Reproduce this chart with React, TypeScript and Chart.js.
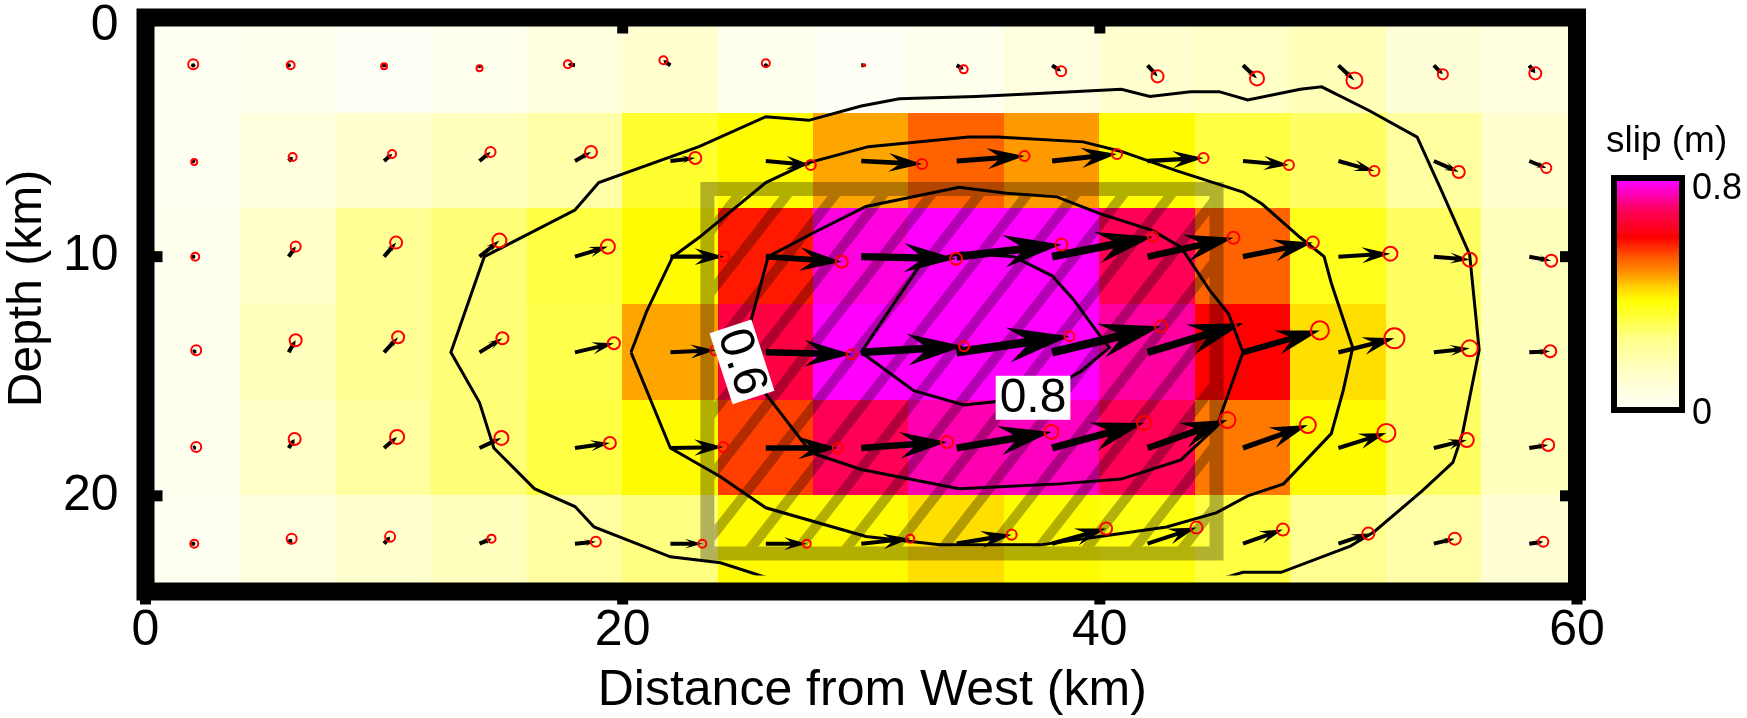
import React, { useEffect, useRef } from "react";
import { Chart, registerables } from "chart.js";

Chart.register(...registerables);

const FONT = "'Liberation Sans', Arial, Helvetica, sans-serif";

// ---- grid / axes ----
const columnCentersKm = [2, 6, 10, 14, 18, 22, 26, 30, 34, 38, 42, 46, 50, 54, 58];
const rowCentersKm = [2, 6, 10, 14, 18, 22];
const cellSizeKm = 4;
const xTickValues = [0, 20, 40, 60];
const yTickValues = [0, 10, 20];
const xAxisTitle = "Distance from West (km)";
const yAxisTitle = "Depth (km)";
const colorbarTitle = "slip (m)";
const slipMin = 0;
const slipMax = 0.8;

// ---- slip amplitude (m), one array per depth row ----
const slipRow0 = [0.01, 0.02, 0.0, 0.02, 0.06, 0.1, 0.02, 0.0, 0.02, 0.06, 0.1, 0.12, 0.15, 0.08, 0.06];
const slipRow1 = [0.01, 0.06, 0.1, 0.14, 0.18, 0.33, 0.38, 0.46, 0.52, 0.47, 0.38, 0.31, 0.28, 0.2, 0.1];
const slipRow2 = [0.02, 0.12, 0.22, 0.26, 0.31, 0.38, 0.58, 0.78, 0.8, 0.8, 0.69, 0.52, 0.35, 0.28, 0.14];
const slipRow3 = [0.02, 0.14, 0.22, 0.26, 0.3, 0.46, 0.67, 0.8, 0.8, 0.8, 0.74, 0.6, 0.41, 0.28, 0.14];
const slipRow4 = [0.02, 0.12, 0.2, 0.26, 0.31, 0.38, 0.55, 0.69, 0.75, 0.76, 0.69, 0.5, 0.38, 0.28, 0.14];
const slipRow5 = [0.01, 0.06, 0.1, 0.14, 0.2, 0.25, 0.38, 0.38, 0.41, 0.38, 0.36, 0.31, 0.23, 0.18, 0.09];
const slipRows = [slipRow0, slipRow1, slipRow2, slipRow3, slipRow4, slipRow5];

// ---- slip vector components (m): east (+) and down-dip on the plot (+ = deeper) ----
const eastRow0 = [0, 0.014, 0, 0, -0.049, -0.049, 0, 0.021, 0.049, 0.063, 0.07, 0.098, 0.112, 0.063, 0.042];
const downRow0 = [-0.007, 0, 0.007, 0.021, -0.007, -0.035, -0.014, 0, 0.028, 0.042, 0.077, 0.091, 0.105, 0.063, 0.056];
const eastRow1 = [0.007, 0.028, 0.056, 0.077, 0.112, 0.174, 0.314, 0.425, 0.474, 0.453, 0.391, 0.321, 0.251, 0.174, 0.119];
const downRow1 = [0.007, -0.028, -0.049, -0.063, -0.063, -0.021, 0.028, 0.021, -0.035, -0.049, -0.021, 0.028, 0.07, 0.077, 0.049];
const eastRow2 = [0.014, 0.049, 0.084, 0.139, 0.23, 0.377, 0.53, 0.662, 0.732, 0.704, 0.6, 0.488, 0.363, 0.251, 0.153];
const downRow2 = [0, -0.07, -0.098, -0.112, -0.07, 0, 0.035, 0.014, -0.084, -0.139, -0.132, -0.098, -0.021, 0.021, 0.028];
const eastRow3 = [0.021, 0.049, 0.098, 0.16, 0.272, 0.314, 0.6, 0.718, 0.788, 0.76, 0.669, 0.537, 0.391, 0.251, 0.146];
const downRow3 = [-0.014, -0.084, -0.105, -0.098, -0.063, -0.014, 0.014, -0.042, -0.112, -0.181, -0.202, -0.153, -0.098, -0.028, -0.007];
const eastRow4 = [0.021, 0.042, 0.091, 0.153, 0.244, 0.37, 0.502, 0.6, 0.662, 0.642, 0.558, 0.453, 0.335, 0.23, 0.132];
const downRow4 = [-0.007, -0.063, -0.077, -0.07, -0.035, -0.007, 0, -0.042, -0.112, -0.174, -0.195, -0.16, -0.105, -0.056, -0.021];
const eastRow5 = [0.007, 0.021, 0.042, 0.084, 0.146, 0.223, 0.286, 0.342, 0.384, 0.377, 0.342, 0.279, 0.209, 0.146, 0.098];
const downRow5 = [0, -0.035, -0.049, -0.035, -0.014, 0, 0, -0.035, -0.063, -0.105, -0.112, -0.098, -0.07, -0.035, -0.014];
const eastRows = [eastRow0, eastRow1, eastRow2, eastRow3, eastRow4, eastRow5];
const downRows = [downRow0, downRow1, downRow2, downRow3, downRow4, downRow5];

// ---- uncertainty radius (m) at arrow tips ----
const errRow0 = [0.035, 0.028, 0.021, 0.021, 0.028, 0.028, 0.028, 0.007, 0.028, 0.035, 0.042, 0.049, 0.056, 0.035, 0.042];
const errRow1 = [0.021, 0.028, 0.028, 0.035, 0.042, 0.042, 0.035, 0.035, 0.035, 0.035, 0.035, 0.035, 0.035, 0.042, 0.035];
const errRow2 = [0.028, 0.035, 0.042, 0.049, 0.049, 0.035, 0.042, 0.042, 0.042, 0.035, 0.042, 0.042, 0.049, 0.049, 0.042];
const errRow3 = [0.035, 0.042, 0.042, 0.042, 0.042, 0.035, 0.035, 0.035, 0.035, 0.042, 0.056, 0.063, 0.07, 0.056, 0.042];
const errRow4 = [0.035, 0.042, 0.049, 0.049, 0.042, 0.035, 0.035, 0.042, 0.049, 0.049, 0.056, 0.056, 0.063, 0.049, 0.042];
const errRow5 = [0.028, 0.035, 0.035, 0.028, 0.035, 0.028, 0.028, 0.028, 0.035, 0.042, 0.042, 0.042, 0.042, 0.042, 0.035];
const errRows = [errRow0, errRow1, errRow2, errRow3, errRow4, errRow5];
const arrowKmPerM = 6;

// ---- colour map ----
const colorStopT = [0, 0.15, 0.3, 0.47, 0.53, 0.58, 0.66, 0.75, 0.87, 1];
const colorStopRGB = [
  [255, 255, 245], [255, 255, 200], [255, 255, 140], [255, 255, 0], [255, 210, 0],
  [255, 160, 0], [255, 90, 0], [255, 0, 0], [255, 0, 90], [255, 0, 255],
];

// ---- contours [km east, km depth] ----
const contour02 = [
  [27.2, 24.2], [26.6, 23.6], [24.1, 22.8], [22.0, 22.55], [18.8, 21.3], [18.0, 20.45], [16.3, 19.7],
  [14.6, 18.0], [14.0, 16.1], [12.8, 14.0], [14.2, 10.0], [18.0, 8.05], [19.0, 6.9], [23.2, 5.4],
  [26.0, 4.15], [27.8, 4.3], [30.0, 3.7], [31.6, 3.4], [34.8, 3.3], [37.0, 3.2], [40.9, 3.0],
  [42.1, 3.3], [43.8, 3.1], [45.0, 3.1], [46.2, 3.45], [48.4, 3.0], [49.3, 2.9], [51.3, 3.9],
  [53.3, 5.0], [54.3, 7.2], [55.5, 9.9], [55.9, 13.9], [55.6, 15.4], [55.2, 17.4], [54.8, 18.6],
  [53.5, 19.8], [51.5, 21.5], [50.5, 22.1], [47.6, 23.2], [46.0, 23.2], [44.3, 23.7], [43.6, 24.2],
];
const contour04 = [
  [20.35, 14.0], [21.0, 12.3], [22.1, 10.0], [23.2, 9.2], [26.0, 6.9], [27.7, 6.1], [30.3, 5.4],
  [34.5, 5.0], [35.7, 5.0], [39.3, 5.2], [40.9, 5.6], [43.2, 6.4], [46.0, 7.3], [46.8, 7.8],
  [48.4, 9.2], [49.4, 10.0], [49.7, 11.1], [50.6, 13.8], [50.2, 15.6], [49.7, 17.4], [47.7, 19.5],
  [46.2, 20.0], [44.9, 20.7], [42.8, 21.3], [40.0, 21.7], [37.5, 22.05], [33.3, 22.05], [30.2, 21.7],
  [26.0, 20.5], [24.1, 19.2], [22.0, 18.0], [20.35, 14.0],
];
const contour06 = [
  [26.1, 10.0], [28.0, 9.0], [30.2, 7.9], [34.1, 7.1], [36.1, 7.35], [38.2, 7.5], [40.0, 8.2],
  [42.2, 8.9], [43.4, 9.6], [44.6, 11.4], [45.4, 12.4], [46.0, 14.0], [44.9, 17.1], [43.4, 18.5],
  [40.9, 19.3], [38.3, 19.5], [34.1, 19.7], [30.0, 18.9], [27.9, 18.2], [26.05, 15.8], [25.0, 14.4],
  [25.4, 12.6], [26.1, 10.0],
];
const contour08 = [
  [30.0, 14.0], [31.0, 12.5], [32.5, 10.3], [34.2, 9.85], [36.4, 10.0], [38.0, 10.8], [38.9, 11.8],
  [40.0, 13.3], [40.4, 13.8], [39.2, 14.8], [37.2, 15.9], [34.3, 16.2], [32.2, 15.6], [30.0, 14.0],
];
const contourLines = [contour02, contour04, contour06, contour08];
const contourLabelText = ["0.6", "0.8"];
const contourLabelX = [25.0, 37.2];
const contourLabelY = [14.4, 15.9];
const contourLabelAngle = [72, 0];

// hatched zone [xmin, ymin, xmax, ymax] in km
const zoneRect = [23.55, 7.17, 44.89, 22.41];

function slipColor(s: number): string {
  const t = Math.max(0, Math.min(1, (s - slipMin) / (slipMax - slipMin)));
  let i = 0;
  while (i < colorStopT.length - 2 && t > colorStopT[i + 1]) i++;
  const f = (t - colorStopT[i]) / (colorStopT[i + 1] - colorStopT[i]);
  const a = colorStopRGB[i], b = colorStopRGB[i + 1];
  const c = a.map((v, k) => Math.round(v + (b[k] - v) * f));
  return `rgb(${c[0]},${c[1]},${c[2]})`;
}

function drawArrow(ctx: CanvasRenderingContext2D, x0: number, y0: number, x1: number, y1: number) {
  const dx = x1 - x0, dy = y1 - y0;
  const L = Math.hypot(dx, dy);
  if (L < 2.5) {
    ctx.beginPath();
    ctx.arc(x0, y0, 2.2, 0, Math.PI * 2);
    ctx.fill();
    return;
  }
  const ux = dx / L, uy = dy / L, nx = -uy, ny = ux;
  const head = Math.min(L * 0.55, 62);
  const halfW = Math.max(3.5, L * 0.155);
  const shaft = Math.max(2, L * 0.038);
  const notch = head * 0.72;
  const bx = x1 - ux * head, by = y1 - uy * head;
  const qx = x1 - ux * notch, qy = y1 - uy * notch;
  ctx.beginPath();
  ctx.moveTo(x1, y1);
  ctx.lineTo(bx + nx * halfW, by + ny * halfW);
  ctx.lineTo(qx + nx * shaft, qy + ny * shaft);
  ctx.lineTo(x0 + nx * shaft, y0 + ny * shaft);
  ctx.lineTo(x0 - nx * shaft, y0 - ny * shaft);
  ctx.lineTo(qx - nx * shaft, qy - ny * shaft);
  ctx.lineTo(bx - nx * halfW, by - ny * halfW);
  ctx.closePath();
  ctx.fill();
}

const tipPoints: { x: number; y: number }[] = [];
const tipErr: number[] = [];
rowCentersKm.forEach((yc, r) => {
  columnCentersKm.forEach((xc, c) => {
    tipPoints.push({ x: xc + eastRows[r][c] * arrowKmPerM, y: yc + downRows[r][c] * arrowKmPerM });
    tipErr.push(errRows[r][c]);
  });
});

const slipPlugin = {
  id: "slipMap",
  afterLayout(chart: any) {
    // nudge axis-title placement to match reference
    const ys = chart.scales.y;
    ys.top -= 16;
    ys.bottom -= 16;
    const xs = chart.scales.x;
    xs.left += 11;
    xs.right += 11;
  },
  beforeDatasetsDraw(chart: any) {
    const { ctx, chartArea: ca, scales } = chart;
    const xs = scales.x, ys = scales.y;
    ctx.save();
    ctx.beginPath();
    ctx.rect(ca.left, ca.top, ca.right - ca.left, ca.bottom - ca.top);
    ctx.clip();
    // cells
    rowCentersKm.forEach((yc, r) => {
      columnCentersKm.forEach((xc, c) => {
        const x0 = xs.getPixelForValue(xc - cellSizeKm / 2);
        const x1 = xs.getPixelForValue(xc + cellSizeKm / 2);
        const y0 = ys.getPixelForValue(yc - cellSizeKm / 2);
        const y1 = ys.getPixelForValue(yc + cellSizeKm / 2);
        ctx.fillStyle = slipColor(slipRows[r][c]);
        const l = Math.floor(Math.min(x0, x1)), t = Math.floor(Math.min(y0, y1));
        ctx.fillRect(l, t, Math.ceil(Math.max(x0, x1)) - l + 1, Math.ceil(Math.max(y0, y1)) - t + 1);
      });
    });
    // hatched zone
    const L = xs.getPixelForValue(zoneRect[0]);
    const R = xs.getPixelForValue(zoneRect[2]);
    const T = ys.getPixelForValue(zoneRect[1]);
    const B = ys.getPixelForValue(zoneRect[3]);
    const band = 14;
    ctx.strokeStyle = "rgba(0,0,0,0.3)";
    ctx.lineWidth = band;
    ctx.strokeRect(L, T, R - L, B - T);
    ctx.save();
    ctx.beginPath();
    ctx.rect(L + band / 2, T + band / 2, R - L - band, B - T - band);
    ctx.clip();
    const ang = (52 * Math.PI) / 180;
    const hx = Math.cos(ang), hy = -Math.sin(ang);
    const span = (B - T) / Math.tan(ang);
    ctx.beginPath();
    for (let sx = L - span - 60; sx < R + 60; sx += 48) {
      ctx.moveTo(sx, B);
      ctx.lineTo(sx + hx * 2000, B + hy * 2000);
    }
    ctx.strokeStyle = "rgba(0,0,0,0.3)";
    ctx.lineWidth = 10;
    ctx.stroke();
    ctx.restore();
    // arrows
    ctx.fillStyle = "#000";
    rowCentersKm.forEach((yc, r) => {
      columnCentersKm.forEach((xc, c) => {
        const p0x = xs.getPixelForValue(xc), p0y = ys.getPixelForValue(yc);
        const p1x = xs.getPixelForValue(xc + eastRows[r][c] * arrowKmPerM);
        const p1y = ys.getPixelForValue(yc + downRows[r][c] * arrowKmPerM);
        drawArrow(ctx, p0x, p0y, p1x, p1y);
      });
    });
    ctx.restore();
  },
  afterDatasetsDraw(chart: any) {
    const { ctx, chartArea: ca, scales } = chart;
    const xs = scales.x, ys = scales.y;
    ctx.save();
    // contour labels
    contourLabelText.forEach((txt, i) => {
      const px = xs.getPixelForValue(contourLabelX[i]);
      const py = ys.getPixelForValue(contourLabelY[i]);
      ctx.save();
      ctx.translate(px, py);
      ctx.rotate((contourLabelAngle[i] * Math.PI) / 180);
      ctx.font = `48px ${FONT}`;
      const w = ctx.measureText(txt).width + 8;
      ctx.fillStyle = "#fff";
      ctx.fillRect(-w / 2, -22, w, 44);
      ctx.fillStyle = "#000";
      ctx.textAlign = "center";
      ctx.textBaseline = "middle";
      ctx.fillText(txt, 0, 1);
      ctx.restore();
    });
    // frame
    ctx.strokeStyle = "#000";
    ctx.lineWidth = 18;
    ctx.lineJoin = "miter";
    ctx.strokeRect(ca.left, ca.top, ca.right - ca.left, ca.bottom - ca.top);
    ctx.fillStyle = "#000";
    yTickValues.forEach((v) => {
      if (v <= ys.min || v >= ys.max) return;
      const py = ys.getPixelForValue(v);
      ctx.fillRect(ca.left + 8, py - 5.5, 9, 11);
      ctx.fillRect(ca.right - 17, py - 5.5, 9, 11);
    });
    xTickValues.forEach((v) => {
      const px = xs.getPixelForValue(v);
      if (v > xs.min && v < xs.max) ctx.fillRect(px - 5.5, ca.top + 8, 11, 8);
      ctx.fillRect(px - 5.5, ca.bottom + 8, 11, 5);
    });
    // colour bar
    const cbL = 1617, cbR = 1679, cbT = 181, cbB = 407;
    const grad = ctx.createLinearGradient(0, cbB, 0, cbT);
    colorStopT.forEach((t, i) => {
      const c = colorStopRGB[i];
      grad.addColorStop(t, `rgb(${c[0]},${c[1]},${c[2]})`);
    });
    ctx.fillStyle = grad;
    ctx.fillRect(cbL, cbT, cbR - cbL, cbB - cbT);
    ctx.lineWidth = 6;
    ctx.strokeStyle = "#000";
    ctx.strokeRect(cbL - 3, cbT - 3, cbR - cbL + 6, cbB - cbT + 6);
    ctx.fillStyle = "#000";
    ctx.textAlign = "left";
    ctx.textBaseline = "alphabetic";
    ctx.font = `37px ${FONT}`;
    ctx.fillText(colorbarTitle, 1606, 152);
    ctx.font = `36px ${FONT}`;
    ctx.fillText(String(slipMax), 1692, 199);
    ctx.fillText(String(slipMin), 1692, 424);
    ctx.restore();
  },
};

export default function App() {
  const ref = useRef<HTMLCanvasElement>(null);
  useEffect(() => {
    const canvas = ref.current;
    if (!canvas) return;
    const tickFont = { family: FONT, size: 50, lineHeight: 1 };
    const topTickFont = { family: FONT, size: 50, lineHeight: 0.34 };
    const chart = new Chart(canvas, {
      type: "scatter",
      data: {
        datasets: [
          {
            label: "uncertainty",
            data: tipPoints,
            showLine: false,
            pointStyle: "circle",
            pointRadius: (ctx: any) => {
              const sx = ctx.chart.scales.x;
              const pxPerKm = Math.abs(sx.getPixelForValue(1) - sx.getPixelForValue(0));
              return tipErr[ctx.dataIndex] * arrowKmPerM * pxPerKm;
            },
            pointBorderColor: "#ff0000",
            pointBackgroundColor: "rgba(0,0,0,0)",
            pointBorderWidth: 2,
          } as any,
          ...contourLines.map((line, i) => ({
            label: `contour ${i}`,
            data: line.map(([x, y]) => ({ x, y })),
            showLine: true,
            borderColor: "#000",
            borderWidth: 3,
            pointRadius: 0,
            tension: 0,
            fill: false,
          })),
        ],
      },
      options: {
        responsive: false,
        maintainAspectRatio: false,
        devicePixelRatio: 1,
        animation: false,
        events: [],
        layout: { padding: { left: 0, top: 17.5, right: 170, bottom: 0 }, autoPadding: false } as any,
        plugins: { legend: { display: false }, tooltip: { enabled: false } },
        scales: {
          x: {
            type: "linear",
            position: "bottom",
            min: 0,
            max: 60,
            ticks: { stepSize: 20, font: tickFont, color: "#000", padding: 15, maxRotation: 0, autoSkip: false },
            grid: { display: false, drawTicks: false },
            border: { display: false },
            title: {
              display: true,
              text: xAxisTitle,
              font: { family: FONT, size: 50, lineHeight: 1 },
              color: "#000",
              padding: { top: 0, bottom: 2 },
            },
            afterBuildTicks: (s: any) => {
              s.ticks = xTickValues.map((v) => ({ value: v }));
            },
            afterFit: (s: any) => {
              s.height = 126.5;
              s.paddingLeft = 0;
              s.paddingRight = 0;
            },
          },
          y: {
            type: "linear",
            position: "left",
            reverse: true,
            min: 0,
            max: 24,
            ticks: {
              font: (c: any) => (c.tick && c.tick.value === 0 ? topTickFont : tickFont),
              callback: (v: any) => (Number(v) === 0 ? ["", String(v)] : String(v)),
              color: "#000",
              padding: 27,
              autoSkip: false,
            },
            grid: { display: false, drawTicks: false },
            border: { display: false },
            title: {
              display: true,
              text: yAxisTitle,
              font: { family: FONT, size: 48, lineHeight: 1 },
              color: "#000",
              padding: { top: 4, bottom: 0 },
            },
            afterBuildTicks: (s: any) => {
              s.ticks = yTickValues.map((v) => ({ value: v }));
            },
            afterFit: (s: any) => {
              s.width = 145.5;
              s.paddingTop = 0;
              s.paddingBottom = 0;
            },
          },
        },
      } as any,
      plugins: [slipPlugin as any],
    });
    return () => chart.destroy();
  }, []);
  return (
    <div style={{ position: "absolute", left: 0, top: 0, width: 1747, height: 718, background: "#fff" }}>
      <canvas ref={ref} width={1747} height={718} style={{ display: "block", width: 1747, height: 718 }} />
    </div>
  );
}
